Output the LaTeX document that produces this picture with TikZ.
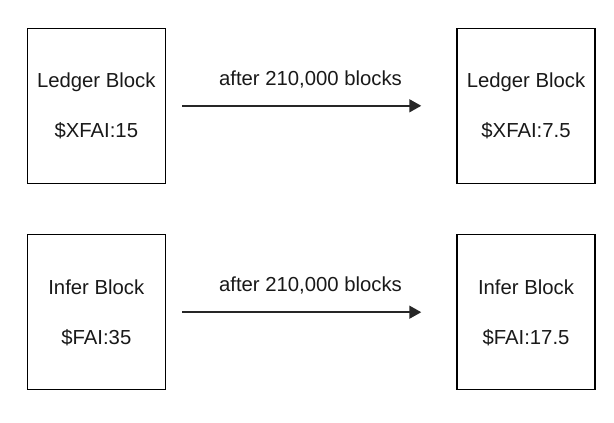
\documentclass[tikz,border=0pt]{standalone}
\usepackage{fontspec}
\setmainfont{Liberation Sans}
\usetikzlibrary{arrows.meta}
\begin{document}
\begin{tikzpicture}[x=1pt,y=-1pt,
  blk/.style={draw=black, line width=1.5pt, minimum width=138pt, minimum height=155pt, inner sep=0pt},
  txt/.style={font=\fontsize{20.3}{24}\selectfont, text=black!90, inner sep=0pt, anchor=base},
  flow/.style={-{Triangle[length=12pt,width=13pt]}, line width=1.6pt, draw=black!85}]
\path[use as bounding box, fill=white] (0,0) rectangle (614,423);
% top row
\node[blk] (lb1) at (96.3,105.8) {};
\node[blk] (lb2) at (526,105.8) {};
\node[txt] (lb1a) at (96.3,87.3) {Ledger Block};
\node[txt] (lb1b) at (96.3,137) {\$XFAI:15};
\node[txt] (lb2a) at (526,87.3) {Ledger Block};
\node[txt] (lb2b) at (526,137) {\$XFAI:7.5};
\draw[flow] ([xshift=16pt]lb1.east) -- ([xshift=-35pt]lb2.west);
\node[txt] (t1) at (310.5,85) {after 210,000 blocks};
% bottom row
\node[blk] (ib1) at (96.3,312.2) {};
\node[blk] (ib2) at (526,312.2) {};
\node[txt] (ib1a) at (96.3,294) {Infer Block};
\node[txt] (ib1b) at (96.3,344) {\$FAI:35};
\node[txt] (ib2a) at (526,294) {Infer Block};
\node[txt] (ib2b) at (526,344) {\$FAI:17.5};
\draw[flow] ([xshift=16pt]ib1.east) -- ([xshift=-35pt]ib2.west);
\node[txt] (t2) at (310.5,291.5) {after 210,000 blocks};
\end{tikzpicture}
\end{document}
